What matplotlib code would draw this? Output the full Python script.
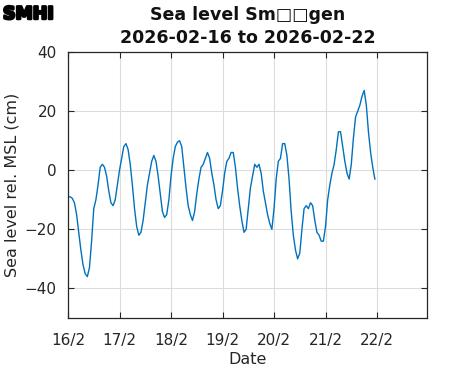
import matplotlib
matplotlib.use("Agg")
import matplotlib.pyplot as plt
import matplotlib.patheffects as pe
from matplotlib import font_manager
import numpy as np

# Hourly sea level values (cm) starting 2026-02-16 00:00
hours = list(range(144))
sea_level = [
    -9, -9, -9.5, -11, -15, -21, -27, -32, -35, -36, -33, -24,
    -13, -10, -5, 1, 2, 1, -2, -7, -11, -12, -10, -5,
    0, 4, 8, 9, 7, 2, -5, -13, -19, -22, -21, -17,
    -11, -5, -1, 3, 5, 3, -2, -8, -14, -16, -15, -10,
    -2, 4, 8, 9.5, 10, 8, 1, -6, -12, -15, -17, -14,
    -8, -3, 1, 2, 4, 6, 4, -1, -5, -10, -13, -12,
    -7, -1, 3, 4, 6, 6, 1, -6, -12, -17, -21, -20,
    -13, -6, -2, 2, 1, 2, -1, -7, -11, -15, -18, -20,
    -13, -3, 3, 4, 9, 9, 5, -3, -14, -22, -27, -30,
    -28, -20, -13, -12, -13, -11, -12, -17, -21, -22, -24, -24,
    -19, -10, -5, -1, 2, 7, 13, 13, 8, 3, -1, -3,
    2, 11, 18, 20, 22, 25, 27, 22, 13, 6, 1, -3,
]
tick_labels = ["16/2", "17/2", "18/2", "19/2", "20/2", "21/2", "22/2"]
y_ticks = [-40, -20, 0, 20, 40]

plt.rcParams['font.family'] = ['DejaVu Sans']
fig = plt.figure(figsize=(4.71, 3.71), dpi=100)
ax = fig.add_axes([68/471, 1-318/371, (427-68)/471, (318-52)/371])

days = np.array(hours) / 24.0
ax.plot(days, sea_level, color="#0072BD", linewidth=1.0)

ax.set_xlim(0, 6.97)
ax.set_ylim(-50, 40)
ax.set_xticks(range(len(tick_labels)))
ax.set_xticklabels(tick_labels)
ax.set_yticks(y_ticks)
ax.grid(True, color="#dcdcdc", linewidth=0.8)
ax.set_axisbelow(True)
ax.tick_params(axis="both", direction="in", top=True, right=True, length=4, width=0.8,
               labelsize=11, colors="#262626")
ax.tick_params(axis="x", pad=11)
ax.tick_params(axis="y", pad=8)
for s in ax.spines.values():
    s.set_color("#262626")
    s.set_linewidth(0.9)
ax.set_xlabel("Date", fontsize=11.5, color="#262626", labelpad=3)
ax.set_ylabel("Sea level rel. MSL (cm)", fontsize=11.5, color="#262626", labelpad=4)

fig.text(247.5/471, 1-20/371, "Sea level Sm\u25a1\u25a1gen", ha="center", va="baseline",
         fontsize=12.5, fontweight="bold", color="#111111")
fig.text(247.5/471, 1-43/371, "2026-02-16 to 2026-02-22", ha="center", va="baseline",
         fontsize=12.5, fontweight="bold", color="#111111")

fig.text(3/471, 1-19/371, "SMHI", ha="left", va="baseline", fontsize=12.5,
         family=["DejaVu Sans"], fontweight="bold", color="black",
         path_effects=[pe.withStroke(linewidth=1.8, foreground="black")])

fig.savefig("out.png", dpi=100)
